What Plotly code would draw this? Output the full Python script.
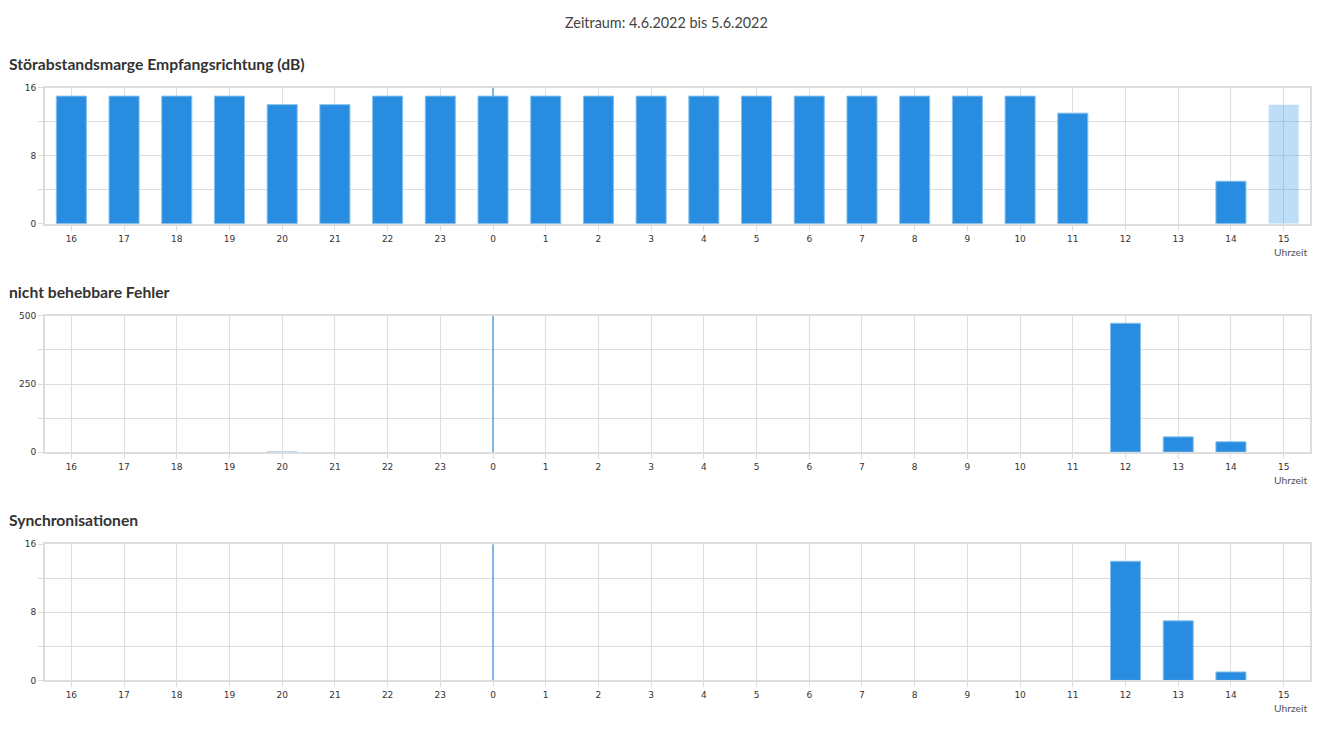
import plotly.graph_objects as go

# ---- data ----
hours = ["16", "17", "18", "19", "20", "21", "22", "23",
         "0", "1", "2", "3", "4", "5", "6", "7", "8", "9", "10", "11", "12", "13", "14", "15"]
snr_margin = [15, 15, 15, 15, 14, 14, 15, 15, 15, 15, 15, 15, 15, 15, 15, 15, 15, 15, 15, 13, None, None, 5, 14]
fec_errors = [0, 0, 0, 0, 1, 0, 0, 0, 0, 0, 0, 0, 0, 0, 0, 0, 0, 0, 0, 0, 473, 56, 38, 0]
resyncs = [0, 0, 0, 0, 0, 0, 0, 0, 0, 0, 0, 0, 0, 0, 0, 0, 0, 0, 0, 0, 14, 7, 1, 0]
current_hour = "15"       # incomplete (current) hour shown lighter
day_change = "0"          # midnight separator

main_title = "Zeitraum: 4.6.2022 bis 5.6.2022"
titles = ["Störabstandsmarge Empfangsrichtung (dB)", "nicht behebbare Fehler", "Synchronisationen"]
y_ticks = [[0, 4, 8, 12, 16], [0, 125, 250, 375, 500], [0, 4, 8, 12, 16]]
y_ticktext = [["0", "", "8", "", "16"], ["0", "", "250", "", "500"], ["0", "", "8", "", "16"]]
x_axis_label = "Uhrzeit"

# ---- layout geometry (pixels) ----
W, H = 1326, 733
px_left, px_right = 45, 1310
plots_px = [(88, 224), (316, 452), (544, 680)]
title_px = [64, 292, 520]


def vy(px):
    """target pixel row -> paper fraction (small correction for capture)"""
    return 1 - ((px - 5.5) / 0.985) / H


BLUE = "#288de0"
LIGHT = "rgba(40,141,224,0.3)"
EDGE = "#86c0ec"
GRID = "#dddddd"
TXT = "#333333"
FONT = "Lato"

fig = go.Figure()
series = [snr_margin, fec_errors, resyncs]
day_idx = hours.index(day_change)
for i, vals in enumerate(series):
    colors, edges, ew = [], [], []
    for h, v in zip(hours, vals):
        if i == 0 and h == current_hour:
            colors.append(LIGHT); edges.append("rgba(0,0,0,0)"); ew.append(0)
        elif v is None or v == 0:
            colors.append(BLUE); edges.append("rgba(0,0,0,0)"); ew.append(0)
        elif i == 1 and v < 3:
            colors.append("#a9d1f2"); edges.append("#a9d1f2"); ew.append(1)
        else:
            colors.append(BLUE); edges.append(EDGE); ew.append(1)
    suffix = "" if i == 0 else str(i + 1)
    fig.add_trace(go.Bar(
        x=hours, y=vals, width=0.57,
        marker=dict(color=colors, line=dict(color=edges, width=ew)),
        xaxis="x" + suffix, yaxis="y" + suffix, showlegend=False,
        hoverinfo="x+y",
    ))

layout = dict(
    width=W, height=H, autosize=False,
    margin=dict(l=0, r=0, t=0, b=0),
    paper_bgcolor="white", plot_bgcolor="white",
    annotations=[], shapes=[],
)
dom_x = [px_left / W, px_right / W]
for i in range(3):
    top, bot = plots_px[i]
    suffix = "" if i == 0 else str(i + 1)
    ymax = y_ticks[i][-1]
    layout["xaxis" + suffix] = dict(
        domain=dom_x, type="category", categoryorder="array", categoryarray=hours,
        range=[-0.5, len(hours) - 0.5],
        anchor="y" + suffix, showgrid=True, gridcolor=GRID, gridwidth=1,
        showline=True, linecolor=GRID, linewidth=2, mirror=True,
        ticks="outside", ticklen=5, tickcolor=GRID,
        tickfont=dict(family="DejaVu Sans", size=9, color=TXT),
        fixedrange=True,
    )
    layout["yaxis" + suffix] = dict(
        domain=[vy(bot), vy(top)], anchor="x" + suffix,
        range=[0, ymax], tickvals=y_ticks[i], ticktext=y_ticktext[i],
        showgrid=True, gridcolor=GRID, gridwidth=1,
        showline=True, linecolor=GRID, linewidth=2, mirror=True,
        ticks="outside", ticklen=5, tickcolor=GRID,
        tickfont=dict(family="DejaVu Sans", size=9, color=TXT),
        zeroline=False, fixedrange=True,
    )
    # midnight separator, visible where it is not hidden behind the bar
    bar_at_sep = series[i][day_idx] or 0
    layout["shapes"].append(dict(
        type="line", xref="x" + suffix, yref="y" + suffix,
        x0=day_idx, x1=day_idx, y0=bar_at_sep, y1=ymax,
        line=dict(color="#7ab8ea", width=2),
    ))
    layout["annotations"].append(dict(
        text="<b>" + titles[i] + "</b>", xref="paper", yref="paper",
        x=7 / W, y=vy(title_px[i]), xanchor="left", yanchor="middle",
        showarrow=False, font=dict(family=FONT, size=15.7, color=TXT),
    ))
    layout["annotations"].append(dict(
        text=x_axis_label, xref="paper", yref="paper",
        x=1309 / W, y=vy(bot + 28), xanchor="right", yanchor="middle",
        showarrow=False, font=dict(family=FONT, size=10.3, color="#555555"),
    ))

layout["annotations"].append(dict(
    text=main_title, xref="paper", yref="paper", x=666 / W, y=vy(23),
    xanchor="center", yanchor="middle", showarrow=False,
    font=dict(family=FONT, size=14.4, color="#444444"),
))
fig.update_layout(**layout)
fig.write_html(
    "out.html",
    config={"displayModeBar": False, "responsive": False},
    post_script=(
        "document.documentElement.style.overflow='hidden';"
        "document.body.style.margin='0px';document.body.style.overflow='hidden';"
        "var gd=document.getElementById('{plot_id}');"
        "gd.style.position='fixed';gd.style.top='0px';gd.style.left='0px';"
    ),
)
